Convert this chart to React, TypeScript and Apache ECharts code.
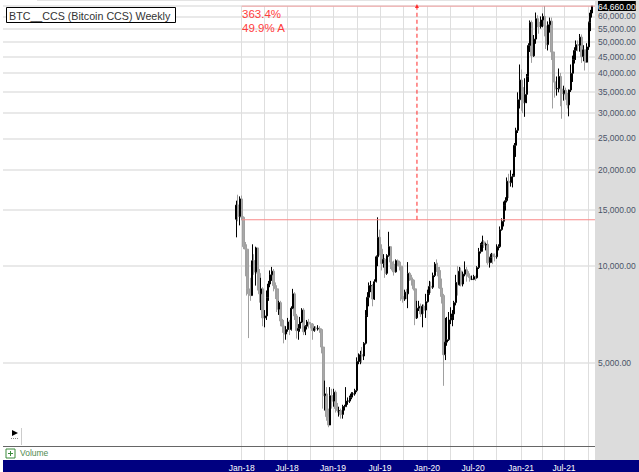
import React, { useEffect, useRef } from "react";
import * as echarts from "echarts";

const opens = [
  14000,15500,14300,16200,14200,11500,11300,8500,8200,8100,
  10400,9600,11400,9500,8200,8500,6900,7000,8000,8800,
  9400,9650,8700,8500,7350,7700,6750,6500,6150,6350,
  6700,6350,7400,8200,7000,6300,6400,6700,7300,6250,
  6500,6700,6620,6600,6300,6410,6400,6400,6350,5600,
  3950,4000,3400,3200,3950,3800,4050,3600,3550,3550,
  3450,3650,3650,3800,3800,3900,4000,4000,4100,5050,
  5050,5300,5250,5750,7000,8000,8700,8700,7900,8950,
  10700,12300,11300,10200,10500,9500,10800,11500,10300,10150,
  9600,10400,10300,10000,8050,7900,8300,8200,9500,9200,
  9050,8500,6900,7400,7500,7100,7500,7300,7750,8200,
  8650,8600,9350,10150,9900,9700,8550,8100,5300,5800,
  5900,6800,6900,7100,7700,8900,8750,9650,8800,9450,
  9750,9400,9300,9100,9100,9280,9200,9900,11100,11700,
  11900,11650,11700,10250,10650,10900,10750,10700,11400,11500,
  13000,13800,15500,16000,18400,18200,19000,19200,23800,26500,
  33000,38000,36000,32300,34300,39000,48700,57500,45200,51000,
  59000,57500,55800,58500,60000,56000,49000,56500,58000,46500,
  37500,35700,35800,39000,35600,34500,35300,34200,31800,35400,
  39900,44000,47000,49000,48800,51700,45000,47200,43200,48200,
  57400,61500,
];
const closes = [
  15500,14300,16200,14200,11500,11300,8500,8200,8100,10400,
  9600,11400,9500,8200,8500,6900,7000,8000,8800,9400,
  9650,8700,8500,7350,7700,6750,6500,6150,6350,6700,
  6350,7400,8200,7000,6300,6400,6700,7300,6250,6500,
  6700,6620,6600,6300,6410,6400,6400,6350,5600,3950,
  4000,3400,3200,3950,3800,4050,3600,3550,3550,3450,
  3650,3650,3800,3800,3900,4000,4000,4100,5050,5050,
  5300,5250,5750,7000,8000,8700,8700,7900,8950,10700,
  12300,11300,10200,10500,9500,10800,11500,10300,10150,9600,
  10400,10300,10000,8050,7900,8300,8200,9500,9200,9050,
  8500,6900,7400,7500,7100,7500,7300,7750,8200,8650,
  8600,9350,10150,9900,9700,8550,8050,5300,5800,5900,
  6800,6900,7100,7700,8900,8750,9650,8800,9450,9750,
  9400,9300,9100,9100,9280,9200,9900,11100,11700,11900,
  11650,11700,10250,10650,10900,10750,10700,11400,11500,13000,
  13800,15500,16000,18400,18200,19000,19200,23800,26500,33000,
  38000,36000,32300,34300,39000,48700,57500,45200,51000,59000,
  57500,55800,58500,60000,56000,49000,56500,58000,46500,37500,
  35700,35800,39000,35600,34500,35300,34200,31800,35400,39900,
  44000,47000,49000,48800,51700,45000,47200,43200,48200,57400,
  61500,64660,
];
const highs = [
  16000,16700,16500,16600,14300,11900,11700,9000,9200,11700,
  10900,11500,11400,9800,9200,8600,7300,8400,9000,9700,
  9950,9800,8900,8600,7800,7800,6850,6800,6500,6900,
  6800,7500,8500,8300,7100,6600,6950,7400,7400,6550,
  6800,6850,6700,6650,6500,6500,6550,6500,6400,5650,
  4400,4200,3600,4200,4150,4150,4100,3750,3650,3600,
  3700,3700,4200,3900,3950,4050,4050,4150,5200,5350,
  5450,5600,5800,7300,8300,8900,9000,8800,9100,10800,
  14200,13000,11700,10900,10600,10900,12800,11500,10900,10400,
  10500,10500,10400,10100,8500,8450,8500,10300,9600,9400,
  9100,8600,7800,7800,7650,7600,7600,8200,8450,9000,
  8950,9550,10300,10500,10250,9950,9150,8200,6900,6950,
  7200,7450,7300,7800,9400,10000,9950,9900,9600,10350,
  9950,9650,9500,9350,9400,9350,10000,11400,11800,12450,
  12050,11800,12050,10700,11000,10950,10950,11700,11700,13300,
  14100,15900,16400,18900,19400,19900,19400,24200,27000,34800,
  42500,41000,37500,38500,39700,49500,58300,58300,52500,61700,
  60500,59000,60000,61300,64660,57000,57900,59500,59500,46600,
  40000,39000,41300,40000,35500,36500,36000,34700,35500,42500,
  45300,48100,50500,50500,52900,52700,48800,47300,49500,57800,
  62900,64660,
];
const lows = [
  12300,13800,13400,13900,11300,9300,8100,5970,7800,8100,
  9400,8700,8400,7700,7300,6500,6450,6800,7800,8600,
  9000,8350,7900,7200,7050,6500,6200,5750,5900,6250,
  6100,6300,7350,6800,5950,5900,6250,6650,6100,6100,
  6350,6400,6400,5900,6250,6300,6300,6200,5350,3600,
  3550,3300,3150,3200,3600,3650,3500,3500,3400,3350,
  3350,3550,3650,3700,3750,3850,3900,3950,4050,4950,
  4950,5000,5100,5700,6950,7500,8300,7500,7850,8900,
  10000,10800,9700,9900,9200,9400,10700,9800,9700,9350,
  9550,10000,9700,7800,7700,7800,7900,7400,9000,8700,
  8400,6550,6850,7250,6950,6450,7100,6900,7700,8150,
  8250,8500,9250,9600,9300,8500,7650,4240,5100,5650,
  5850,6600,6500,6800,7550,8100,8700,8650,8650,9300,
  8950,9200,8950,9050,9050,9000,9150,9800,10950,11100,
  11400,11200,10100,9900,10250,10150,10350,10550,11200,11400,
  12900,13300,14900,15800,16300,17700,17600,19000,21900,26000,
  31000,30500,30000,29200,32200,37500,46500,43000,44900,49300,
  55500,53000,55000,55500,52000,47500,47000,53400,43900,31000,
  33500,34000,34800,31500,28800,32800,33000,31000,29300,34900,
  37500,42800,43900,46700,46600,43000,43500,40700,43200,47200,
  54000,59500,
];

const priceTicks = [5000,10000,15000,20000,25000,30000,35000,40000,45000,50000,55000,60000,64660];
const gridWeeks = [3,15.6,28.6,41.6,54.6,68.1,81.1,94.1,107.7,120.7,133.7,146.7,160.8,172.7,185.1,198.7];
const labelWeeks = [3,28.6,54.6,81.1,107.7,133.7,160.8,185.1];
const dateLabels = ["Jan-18","Jul-18","Jan-19","Jul-19","Jan-20","Jul-20","Jan-21","Jul-21"];
const lastPrice = 64660;
const basePrice = 13953;
const axisMinPrice = 2490;
const weekMin = -131.9;
const weekMax = 202.6;
const lineStartWeek = 3;
const measureWeek = 102;

const candles = opens.map((o, i) => [i, o, closes[i], lows[i], highs[i]]);
const fallingCandles = candles.filter((c) => c[2] < c[1]);
const risingCandles = candles.filter((c) => c[2] >= c[1]);
const money = (v: number) =>
  v.toLocaleString("en-US", { minimumFractionDigits: 2, maximumFractionDigits: 2 });

export default function App() {
  const ref = useRef<HTMLDivElement>(null);
  useEffect(() => {
    const chart = echarts.init(ref.current!, null, { renderer: "svg" });
    const font = "Liberation Sans";
    const levelLine = (y: number) => ({
      type: "line",
      z: 4,
      symbol: "none",
      lineStyle: { color: "#f88a8a", width: 1 },
      data: [[lineStartWeek, y], [weekMax, y]],
    });
    chart.setOption({
      animation: false,
      backgroundColor: "#fff",
      grid: { left: 3, right: 44, top: 6, bottom: 12, containLabel: false },
      xAxis: {
        type: "value",
        min: weekMin,
        max: weekMax,
        axisLine: { show: false },
        axisTick: { show: false, customValues: gridWeeks },
        splitLine: { show: true, lineStyle: { color: "#dedede", width: 1 } },
        axisLabel: {
          customValues: labelWeeks,
          margin: 3,
          color: "#fff",
          fontFamily: font,
          fontSize: 8.5,
          hideOverlap: false,
          showMinLabel: true,
          showMaxLabel: true,
          formatter: (v: number) => dateLabels[labelWeeks.findIndex((w) => Math.abs(w - v) < 0.01)] ?? "",
        },
      },
      yAxis: {
        type: "log",
        position: "right",
        min: axisMinPrice,
        max: lastPrice,
        axisLine: { show: false },
        axisTick: { show: false, customValues: priceTicks },
        splitLine: { show: true, lineStyle: { color: "#e2e2e2", width: 1.5 } },
        axisLabel: {
          customValues: priceTicks,
          margin: 3,
          color: "#4a5468",
          fontFamily: font,
          fontSize: 8.5,
          hideOverlap: false,
          showMinLabel: true,
          showMaxLabel: true,
          formatter: (v: number) => {
            const r = Math.round(v);
            return r === lastPrice ? `{top|${money(r)}}` : money(r);
          },
          rich: {
            top: { backgroundColor: "#000", color: "#fff", fontFamily: font, fontSize: 8.5, padding: [1, 0, 0, 0] },
          },
        },
      },
      series: [
        {
          type: "candlestick",
          barWidth: 2.5,
          encode: { x: 0, y: [1, 2, 3, 4] },
          data: fallingCandles,
          z: 2,
          itemStyle: {
            color: "#a8a8a8",
            color0: "#a8a8a8",
            borderColor: "#a0a0a0",
            borderColor0: "#a0a0a0",
            borderWidth: 1,
          },
        },
        {
          type: "candlestick",
          barWidth: 1.5,
          encode: { x: 0, y: [1, 2, 3, 4] },
          data: risingCandles,
          z: 3,
          itemStyle: {
            color: "#ffffff",
            color0: "#ffffff",
            borderColor: "#000000",
            borderColor0: "#000000",
            borderWidth: 1,
          },
        },
        levelLine(lastPrice),
        levelLine(basePrice),
        {
          type: "line",
          z: 4,
          symbol: "none",
          itemStyle: { color: "#ff2a2a" },
          lineStyle: { color: "#ff2a2a", width: 1, type: [4, 3] },
          data: [
            [measureWeek, basePrice],
            { value: [measureWeek, lastPrice], symbol: "triangle", symbolSize: 4 },
          ],
        },
      ],
      graphic: [
        { type: "rect", z: -10, shape: { x: 595, y: 0, width: 44, height: 460 }, style: { fill: "#dcdcdc" } },
        { type: "rect", z: -10, shape: { x: 37, y: 0, width: 602, height: 1 }, style: { fill: "#e4e4e4" } },
        { type: "rect", z: -10, shape: { x: 3, y: 460, width: 636, height: 12 }, style: { fill: "#000080" } },
        { type: "line", z: 5, shape: { x1: 3, y1: 446.5, x2: 595, y2: 446.5 }, style: { stroke: "#666", lineWidth: 1 } },
        { type: "rect", z: 6, shape: { x: 6.5, y: 7.5, width: 169, height: 15 }, style: { fill: "#fff", stroke: "#000", lineWidth: 1 } },
        { type: "text", z: 7, x: 9, y: 10, style: { text: "BTC__CCS (Bitcoin CCS) Weekly", fill: "#333", font: `10.7px ${font}` } },
        { type: "text", z: 7, x: 242, y: 8, style: { text: "363.4%", fill: "#ff3c3c", font: `11.5px ${font}` } },
        { type: "text", z: 7, x: 242, y: 22, style: { text: "49.9% A", fill: "#ff3c3c", font: `11.5px ${font}` } },
        { type: "rect", z: 6, shape: { x: 6, y: 449, width: 9, height: 9 }, style: { fill: "#fff", stroke: "#3a8a3a", lineWidth: 1 } },
        { type: "line", z: 7, shape: { x1: 8, y1: 453.5, x2: 13, y2: 453.5 }, style: { stroke: "#3a8a3a", lineWidth: 1 } },
        { type: "line", z: 7, shape: { x1: 10.5, y1: 451, x2: 10.5, y2: 456 }, style: { stroke: "#3a8a3a", lineWidth: 1 } },
        { type: "text", z: 7, x: 20, y: 448.5, style: { text: "Volume", fill: "#4f8a50", font: `8.5px ${font}` } },
        { type: "polygon", z: 7, shape: { points: [[12, 430], [12, 436], [18, 433]] }, style: { fill: "#000" } },
        { type: "line", z: 7, shape: { x1: 11, y1: 438.5, x2: 18, y2: 438.5 }, style: { stroke: "#888", lineWidth: 1, lineDash: [1, 1] } },
        { type: "line", z: 7, shape: { x1: 21.5, y1: 428, x2: 21.5, y2: 445 }, style: { stroke: "#ccc", lineWidth: 1 } },
      ],
    });
    return () => chart.dispose();
  }, []);
  return <div ref={ref} style={{ position: "absolute", left: 0, top: 0, width: 639, height: 472 }} />;
}
